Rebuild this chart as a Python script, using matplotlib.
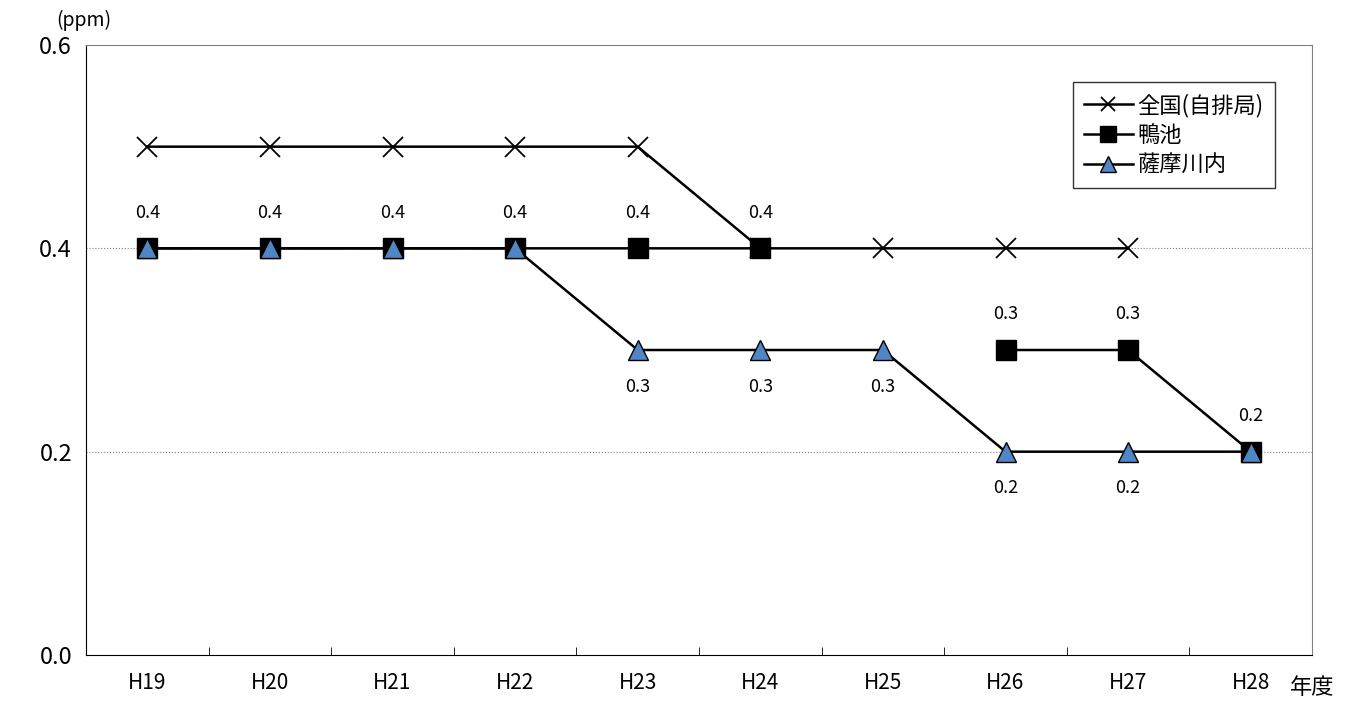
import matplotlib
matplotlib.use("Agg")
import matplotlib.pyplot as plt
import numpy as np

plt.rcParams['font.family'] = ['Noto Sans CJK JP', 'DejaVu Sans']

years = ['H19', 'H20', 'H21', 'H22', 'H23', 'H24', 'H25', 'H26', 'H27', 'H28']
zenkoku = [0.5, 0.5, 0.5, 0.5, 0.5, 0.4, 0.4, 0.4, 0.4, np.nan]
kamoike = [0.4, 0.4, 0.4, 0.4, 0.4, 0.4, np.nan, 0.3, 0.3, 0.2]
satsuma = [0.4, 0.4, 0.4, 0.4, 0.3, 0.3, 0.3, 0.2, 0.2, 0.2]
labels_above_kamoike = [0, 1, 2, 3, 4, 5, 7, 8, 9]
labels_below_satsuma = [4, 5, 6, 7, 8]

x = np.arange(len(years))
fig = plt.figure(figsize=(13.59, 7.02), dpi=100)
ax = fig.add_axes([86/1359, 47/702, 1226/1359, 610/702])

ax.plot(x, zenkoku, color='black', lw=1.8, marker='x', ms=14, mew=1.3, label='全国(自排局)')
ax.plot(x, kamoike, color='black', lw=1.8, marker='s', ms=15, label='鴨池')
ax.plot(x, satsuma, color='black', lw=1.8, marker='^', ms=15, mfc='#4f86c6', mec='black', label='薩摩川内')

for i in labels_above_kamoike:
    ax.text(x[i], kamoike[i] + 0.035, f'{kamoike[i]:.1f}', ha='center', va='center', fontsize=13)
for i in labels_below_satsuma:
    ax.text(x[i], satsuma[i] - 0.036, f'{satsuma[i]:.1f}', ha='center', va='center', fontsize=13)

ax.set_xlim(-0.5, 9.5)
ax.set_ylim(0, 0.6)
ax.set_yticks([0, 0.2, 0.4, 0.6])
ax.set_yticklabels(['0.0', '0.2', '0.4', '0.6'], fontsize=17)
ax.set_xticks(x)
ax.set_xticklabels(years, fontsize=15)
ax.set_xticks(np.arange(0.5, 9.5, 1), minor=True)
ax.tick_params(axis='x', which='major', length=0, pad=12)
ax.tick_params(axis='x', which='minor', length=6, direction='in')
ax.tick_params(axis='y', length=0, pad=10)
for yv in [0.2, 0.4]:
    ax.axhline(yv, color='gray', lw=0.8, ls=':', zorder=0)
for s in ['top', 'right']:
    ax.spines[s].set_color('gray')
    ax.spines[s].set_linewidth(0.8)

fig.text(56/1359, 1 - 20/702, '(ppm)', fontsize=14, va='center')
fig.text(1290/1359, 1 - 688/702, '年度', fontsize=16, va='center')

leg = ax.legend(loc='upper right', bbox_to_anchor=(0.9785, 0.957), fontsize=16, frameon=True,
                fancybox=False, edgecolor='black', handlelength=2.2, handletextpad=0.2,
                labelspacing=0.3, markerscale=0.75, borderpad=0.5)
leg.get_frame().set_linewidth(1.0)

fig.savefig('out.png', dpi=100)
